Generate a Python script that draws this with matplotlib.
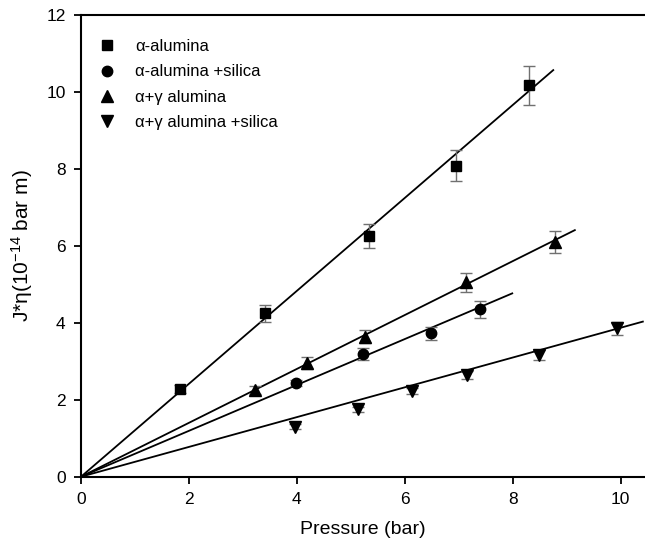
import numpy as np
import matplotlib.pyplot as plt

plt.rcParams['font.family'] = ['Liberation Sans', 'DejaVu Sans']
plt.rcParams['mathtext.fontset'] = 'custom'
plt.rcParams['mathtext.rm'] = 'Liberation Sans'
plt.rcParams['mathtext.it'] = 'Liberation Sans:italic'

# data
labels = ['α-alumina', 'α-alumina +silica', 'α+γ alumina', 'α+γ alumina +silica']
markers = ['s', 'o', '^', 'v']

x_sq = [1.83, 3.41, 5.34, 6.94, 8.30]
y_sq = [2.27, 4.24, 6.26, 8.08, 10.17]
e_sq = [0.10, 0.21, 0.31, 0.40, 0.51]

x_ci = [3.98, 5.22, 6.48, 7.40]
y_ci = [2.44, 3.18, 3.72, 4.35]
e_ci = [0.08, 0.16, 0.18, 0.22]

x_tr = [3.22, 4.19, 5.27, 7.14, 8.78]
y_tr = [2.25, 2.95, 3.64, 5.05, 6.10]
e_tr = [0.10, 0.15, 0.17, 0.25, 0.29]

x_dt = [3.96, 5.14, 6.14, 7.16, 8.48, 9.93]
y_dt = [1.30, 1.75, 2.23, 2.64, 3.16, 3.85]
e_dt = [0.06, 0.06, 0.07, 0.10, 0.12, 0.17]

# linear fits through the origin (slope, end of drawn line)
fit_slope = [1.207, 0.596, 0.700, 0.387]
fit_xmax = [8.75, 7.99, 9.15, 10.41]

series = [(x_sq, y_sq, e_sq), (x_ci, y_ci, e_ci), (x_tr, y_tr, e_tr), (x_dt, y_dt, e_dt)]
msizes = [7, 7.5, 8, 8]

fig = plt.figure(figsize=(6.45, 5.47), dpi=100)
ax = fig.add_axes([0.1256, 0.1285, 0.8744, 0.8446])

for i, (x, y, e) in enumerate(series):
    xf = np.array([0, fit_xmax[i]])
    ax.plot(xf, fit_slope[i] * xf, color='black', lw=1.3, zorder=2)
    ax.errorbar(x, y, yerr=e, fmt='none', ecolor='#707070', elinewidth=1.0,
                capsize=4, capthick=1.0, zorder=3)
    ax.plot(x, y, linestyle='none', marker=markers[i], color='black',
            markersize=msizes[i], label=labels[i], zorder=4)

ax.set_xlim(0, 10.45)
ax.set_ylim(0, 12)
ax.set_xticks(np.arange(0, 11, 2))
ax.set_yticks(np.arange(0, 13, 2))

ax.spines['right'].set_visible(False)
for s in ['left', 'bottom', 'top']:
    ax.spines[s].set_linewidth(1.5)
ax.tick_params(direction='out', length=5, width=1.3, labelsize=12.5, pad=6)

ax.set_xlabel('Pressure (bar)', fontsize=14, labelpad=10)
ax.set_ylabel(r'J*η(10$^{-14}$ bar m)', fontsize=15, labelpad=8)

ax.legend(loc='upper left', frameon=False, fontsize=12, handlelength=1.0,
          handletextpad=1.18, borderaxespad=0, labelspacing=0.61,
          bbox_to_anchor=(0.0195, 0.9615))

fig.savefig('out.png', dpi=100)
